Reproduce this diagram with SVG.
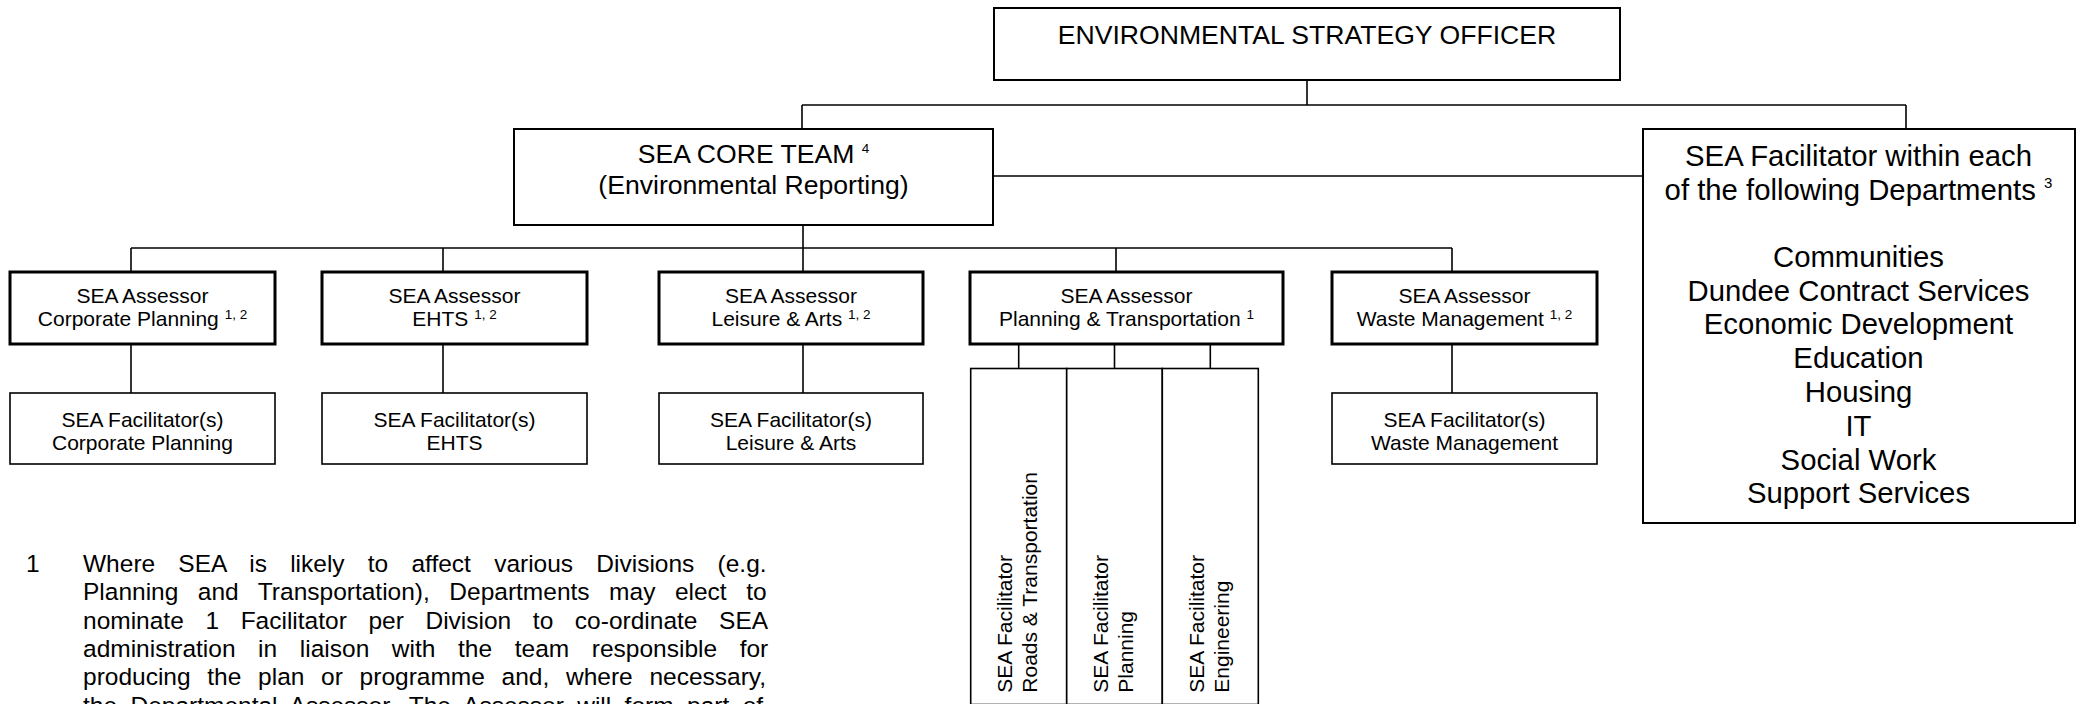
<svg xmlns="http://www.w3.org/2000/svg" width="2080" height="704" viewBox="0 0 2080 704">
<style>
text{font-family:"Liberation Sans",Arial,sans-serif;fill:#000}
.big{font-size:26.6px;text-anchor:middle}
.dept{font-size:29.3px;text-anchor:middle}
.sm{font-size:21px;text-anchor:middle}
.vt{font-size:21px}
.note{font-size:24.5px}
.sup{font-size:13.5px}
.box{fill:#fff;stroke:#000;stroke-width:2}
.abox{fill:#fff;stroke:#000;stroke-width:3}
.fbox{fill:#fff;stroke:#000;stroke-width:1.6}
.con line{stroke:#000;stroke-width:1.6}
</style>
<rect width="2080" height="704" fill="#fff"/>
<g class="con" id="connectors">
<line x1="1307" y1="80" x2="1307" y2="105"/>
<line x1="802" y1="105" x2="1906" y2="105"/>
<line x1="802" y1="105" x2="802" y2="129"/>
<line x1="1906" y1="105" x2="1906" y2="129"/>
<line x1="993" y1="176" x2="1643" y2="176"/>
<line x1="803" y1="225" x2="803" y2="248"/>
<line x1="131" y1="248" x2="1452" y2="248"/>
<line x1="131" y1="248" x2="131" y2="272"/>
<line x1="443" y1="248" x2="443" y2="272"/>
<line x1="803" y1="248" x2="803" y2="272"/>
<line x1="1116" y1="248" x2="1116" y2="272"/>
<line x1="1452" y1="248" x2="1452" y2="272"/>
<line x1="131" y1="344" x2="131" y2="393"/>
<line x1="443" y1="344" x2="443" y2="393"/>
<line x1="803" y1="344" x2="803" y2="393"/>
<line x1="1452" y1="344" x2="1452" y2="393"/>
<line x1="1018.7" y1="344" x2="1018.7" y2="368.5"/>
<line x1="1114.5" y1="344" x2="1114.5" y2="368.5"/>
<line x1="1210.3" y1="344" x2="1210.3" y2="368.5"/>
</g>
<g id="eso">
<rect class="box" x="994" y="8" width="626" height="72"/>
<text class="big" x="1307" y="44">ENVIRONMENTAL STRATEGY OFFICER</text>
</g>
<g id="core">
<rect class="box" x="514" y="129" width="479" height="96"/>
<text class="big" x="753.5" y="163">SEA CORE TEAM <tspan class="sup" font-size="16" dy="-10">4</tspan></text>
<text class="big" x="753.5" y="194">(Environmental Reporting)</text>
</g>
<g id="depts">
<rect class="box" x="1643" y="129" width="432" height="394"/>
<text class="dept" x="1858.5" y="165.7">SEA Facilitator within each</text>
<text class="dept" x="1858.5" y="200">of the following Departments <tspan font-size="15" dy="-12">3</tspan></text>
<text class="dept" x="1858.5" y="266.7">Communities</text>
<text class="dept" x="1858.5" y="300.5">Dundee Contract Services</text>
<text class="dept" x="1858.5" y="334.3">Economic Development</text>
<text class="dept" x="1858.5" y="368.3">Education</text>
<text class="dept" x="1858.5" y="401.7">Housing</text>
<text class="dept" x="1858.5" y="436">IT</text>
<text class="dept" x="1858.5" y="470">Social Work</text>
<text class="dept" x="1858.5" y="503.3">Support Services</text>
</g>
<g id="assessor-cp">
<rect class="abox" x="10" y="272" width="265" height="72"/>
<text class="sm" x="142.5" y="303">SEA Assessor</text>
<text class="sm" x="142.5" y="326">Corporate Planning <tspan class="sup" dy="-7">1, 2</tspan></text>
</g>
<g id="assessor-ehts">
<rect class="abox" x="322" y="272" width="265" height="72"/>
<text class="sm" x="454.5" y="303">SEA Assessor</text>
<text class="sm" x="454.5" y="326">EHTS <tspan class="sup" dy="-7">1, 2</tspan></text>
</g>
<g id="assessor-la">
<rect class="abox" x="659" y="272" width="264" height="72"/>
<text class="sm" x="791" y="303">SEA Assessor</text>
<text class="sm" x="791" y="326">Leisure &amp; Arts <tspan class="sup" dy="-7">1, 2</tspan></text>
</g>
<g id="assessor-pt">
<rect class="abox" x="970" y="272" width="313" height="72"/>
<text class="sm" x="1126.5" y="303">SEA Assessor</text>
<text class="sm" x="1126.5" y="326">Planning &amp; Transportation <tspan class="sup" dy="-7">1</tspan></text>
</g>
<g id="assessor-wm">
<rect class="abox" x="1332" y="272" width="265" height="72"/>
<text class="sm" x="1464.5" y="303">SEA Assessor</text>
<text class="sm" x="1464.5" y="326">Waste Management <tspan class="sup" dy="-7">1, 2</tspan></text>
</g>
<g id="fac-cp">
<rect class="fbox" x="10" y="393" width="265" height="71"/>
<text class="sm" x="142.5" y="427">SEA Facilitator(s)</text>
<text class="sm" x="142.5" y="450">Corporate Planning</text>
</g>
<g id="fac-ehts">
<rect class="fbox" x="322" y="393" width="265" height="71"/>
<text class="sm" x="454.5" y="427">SEA Facilitator(s)</text>
<text class="sm" x="454.5" y="450">EHTS</text>
</g>
<g id="fac-la">
<rect class="fbox" x="659" y="393" width="264" height="71"/>
<text class="sm" x="791" y="427">SEA Facilitator(s)</text>
<text class="sm" x="791" y="450">Leisure &amp; Arts</text>
</g>
<g id="fac-wm">
<rect class="fbox" x="1332" y="393" width="265" height="71"/>
<text class="sm" x="1464.5" y="427">SEA Facilitator(s)</text>
<text class="sm" x="1464.5" y="450">Waste Management</text>
</g>
<g id="fac-roads">
<rect class="fbox" x="970.7" y="368.5" width="96" height="336"/>
<text class="vt" transform="translate(1011.7 692.7) rotate(-90)">SEA Facilitator</text>
<text class="vt" transform="translate(1036.7 692.7) rotate(-90)">Roads &amp; Transportation</text>
</g>
<g id="fac-planning">
<rect class="fbox" x="1066.7" y="368.5" width="95.6" height="336"/>
<text class="vt" transform="translate(1107.7 692.7) rotate(-90)">SEA Facilitator</text>
<text class="vt" transform="translate(1132.7 692.7) rotate(-90)">Planning</text>
</g>
<g id="fac-eng">
<rect class="fbox" x="1162.3" y="368.5" width="96" height="336"/>
<text class="vt" transform="translate(1204 692.7) rotate(-90)">SEA Facilitator</text>
<text class="vt" transform="translate(1228.5 692.7) rotate(-90)">Engineering</text>
</g>
<g id="footnote" class="note">
<text class="note" x="26" y="572">1</text>
<text class="note" x="83" y="572" word-spacing="16.4">Where SEA is likely to affect various Divisions (e.g.</text>
<text class="note" x="83" y="600.3" word-spacing="12.7">Planning and Transportation), Departments may elect to</text>
<text class="note" x="83" y="628.6" word-spacing="14.8">nominate 1 Facilitator per Division to co-ordinate SEA</text>
<text class="note" x="83" y="656.9" word-spacing="15.8">administration in liaison with the team responsible for</text>
<text class="note" x="83" y="685.2" word-spacing="9.9">producing the plan or programme and, where necessary,</text>
<text class="note" x="83" y="713.5" word-spacing="6.6">the Departmental Assessor. The Assessor will form part of</text>
</g>
</svg>
